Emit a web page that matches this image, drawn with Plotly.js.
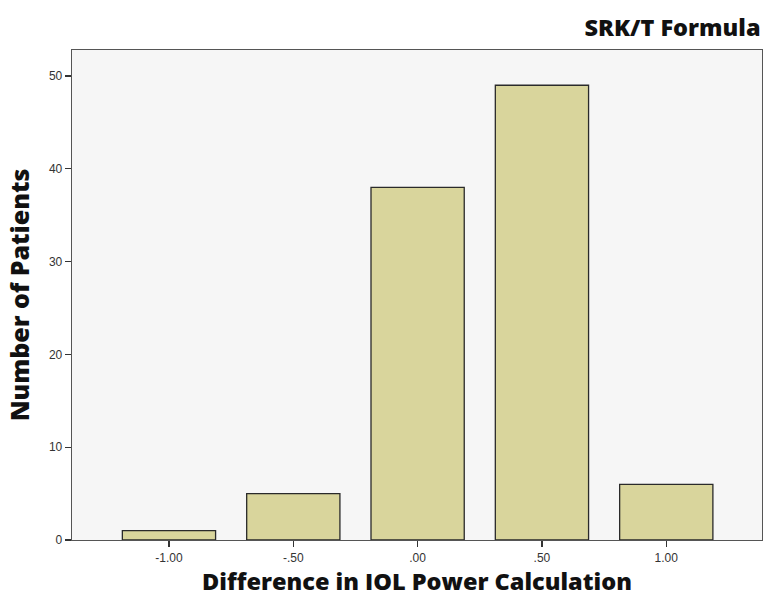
<!DOCTYPE html>
<html><head><meta charset="utf-8">
<script src="https://cdn.plot.ly/plotly-3.0.1.min.js"></script>
<style>body{margin:0;background:#fff}#chart{width:764px;height:597px}</style>
</head><body><div id="chart"></div>
<script>
const categories = ["-1.00", "-.50", ".00", ".50", "1.00"];
const patients = [1, 5, 38, 49, 6];
const yTicks = [0, 10, 20, 30, 40, 50];

const titleFont = "Open Sans, Noto Sans, sans-serif";
const trace = {
  type: "bar",
  x: categories.map((c, i) => i),
  y: patients,
  width: 0.75,
  marker: {color: "#d9d59c", line: {color: "#2a2a2a", width: 1.3}},
  hoverinfo: "x+y"
};
const layout = {
  width: 764, height: 597,
  margin: {l: 72, r: 2, t: 50, b: 57},
  paper_bgcolor: "#ffffff",
  plot_bgcolor: "#f6f6f6",
  showlegend: false,
  bargap: 0.25,
  title: {text: "SRK/T Formula", x: 0.998, xanchor: "right", xref: "paper", y: 0.953, yanchor: "middle",
          font: {family: titleFont, size: 23.5, weight: 800, color: "#111"}},
  xaxis: {
    range: [-0.78, 4.77],
    tickmode: "array", tickvals: categories.map((c, i) => i), ticktext: categories,
    ticks: "outside", ticklen: 6, tickwidth: 1.3, tickcolor: "#333",
    showline: true, linecolor: "#555", linewidth: 1.3, mirror: true,
    showgrid: false, zeroline: false,
    tickfont: {family: "Liberation Sans, Arial, sans-serif", size: 12, color: "#333"},
    title: {text: "Difference in IOL Power Calculation", standoff: 17,
            font: {family: titleFont, size: 23.5, weight: 800, color: "#111"}}
  },
  yaxis: {
    range: [0, 52.8],
    tickmode: "array", tickvals: yTicks, ticktext: yTicks.map(String),
    ticks: "outside", ticklen: 6, tickwidth: 1.3, tickcolor: "#333",
    showline: true, linecolor: "#555", linewidth: 1.3, mirror: true,
    showgrid: false, zeroline: false,
    tickfont: {family: "Liberation Sans, Arial, sans-serif", size: 12, color: "#333"},
    title: {text: "Number of Patients", standoff: 12,
            font: {family: titleFont, size: 25, weight: 800, color: "#111"}}
  }
};
Plotly.newPlot("chart", [trace], layout, {displayModeBar: false, staticPlot: true});
</script></body></html>
